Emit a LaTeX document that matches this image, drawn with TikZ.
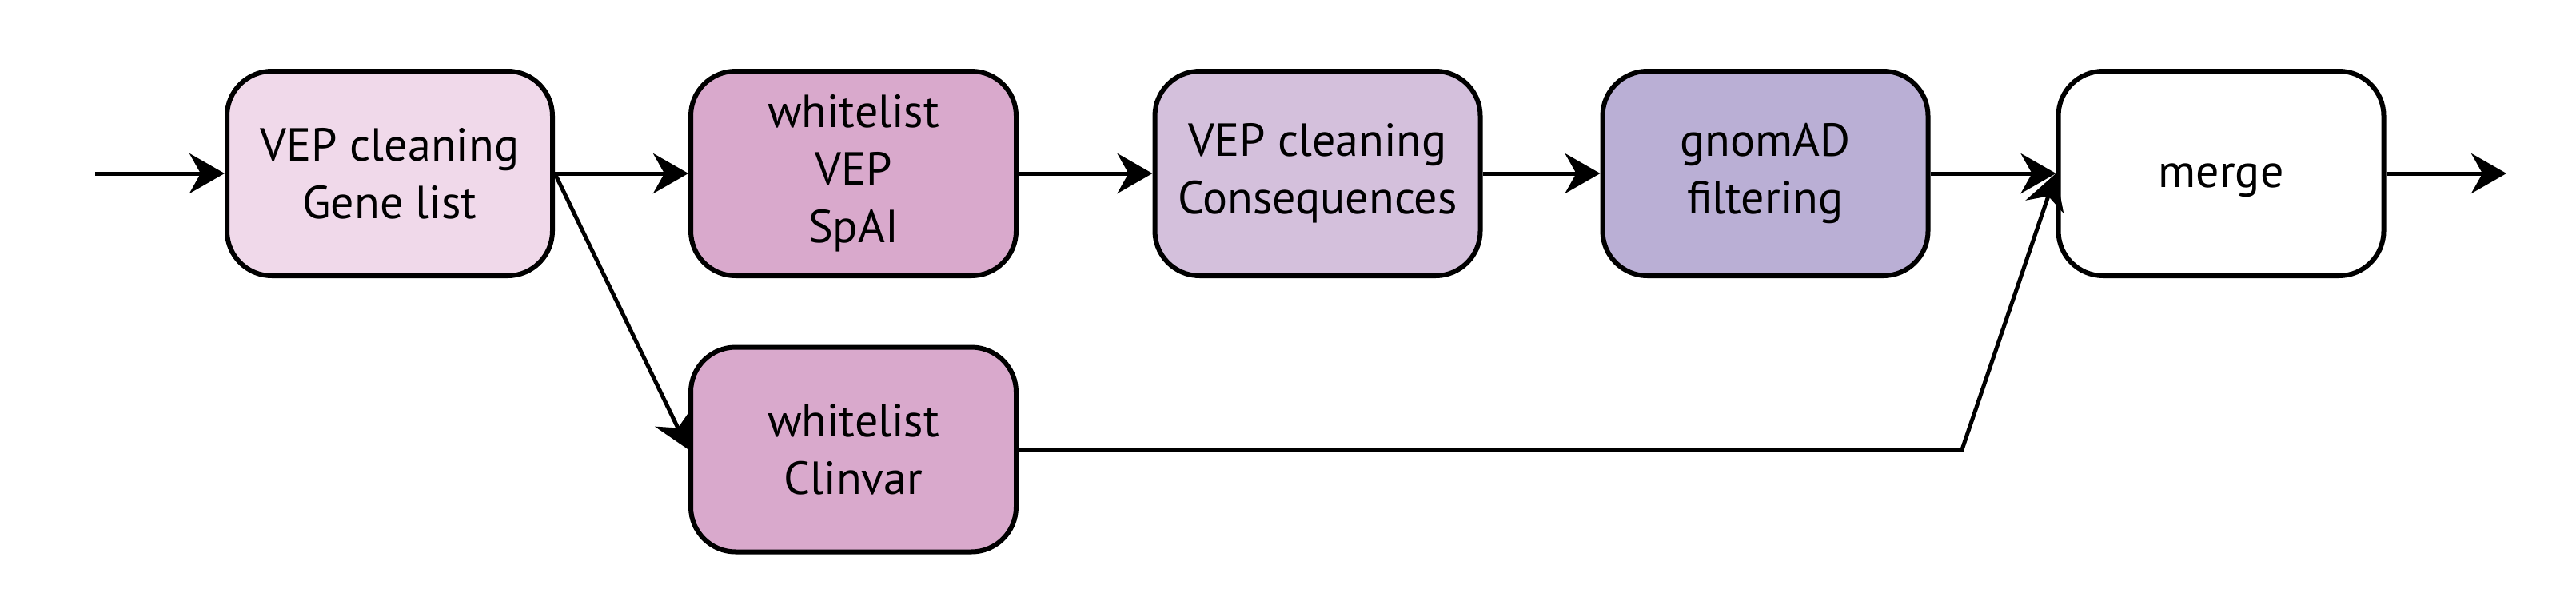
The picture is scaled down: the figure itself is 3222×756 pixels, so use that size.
\documentclass[tikz,border=0pt]{standalone}
\usepackage{fontspec}
\setmainfont{PT Sans}
\usetikzlibrary{arrows.meta}
\definecolor{cA}{RGB}{240,217,234}
\definecolor{cB}{RGB}{217,169,204}
\definecolor{cC}{RGB}{212,192,220}
\definecolor{cD}{RGB}{186,175,213}
\begin{document}
\begin{tikzpicture}[x=0.5pt,y=-0.5pt,
  box/.style={draw=black, line width=3pt, rounded corners=28pt,
    minimum width=203.5pt, minimum height=128pt, align=center,
    font=\fontsize{29}{36}\selectfont, inner sep=0pt},
  conn/.style={line width=2.5pt, -{Stealth[length=22pt,width=25pt,inset=7pt]}}]
\useasboundingbox (0,0) rectangle (3222,756);
\node[box, fill=cA] (gl) at (487.5,217) {VEP cleaning\\Gene list};
\node[box, fill=cB] (sp) at (1067.5,217) {whitelist\\VEP\\SpAI};
\node[box, fill=cC] (cq) at (1648,217) {VEP cleaning\\Consequences};
\node[box, fill=cD] (gn) at (2208,217) {gnomAD\\filtering};
\node[box, fill=white, text height=18pt, text depth=1pt] (mg) at (2778,217) {merge};
\node[box, fill=cB] (cv) at (1067.5,562.5) {whitelist\\Clinvar};
\coordinate (in) at (119,217);
\coordinate (out) at (3135,217);
\coordinate (bend) at (2454,562.5);
\draw[conn] (in) -- (gl.west);
\draw[conn] (gl.east) -- (sp.west);
\draw[conn] (gl.east) -- (cv.west);
\draw[conn] (sp.east) -- (cq.west);
\draw[conn] (cq.east) -- (gn.west);
\draw[conn] (gn.east) -- (mg.west);
\draw[conn] (cv.east) -- (bend) -- (mg.west);
\draw[conn] (mg.east) -- (out);
\end{tikzpicture}
\end{document}
